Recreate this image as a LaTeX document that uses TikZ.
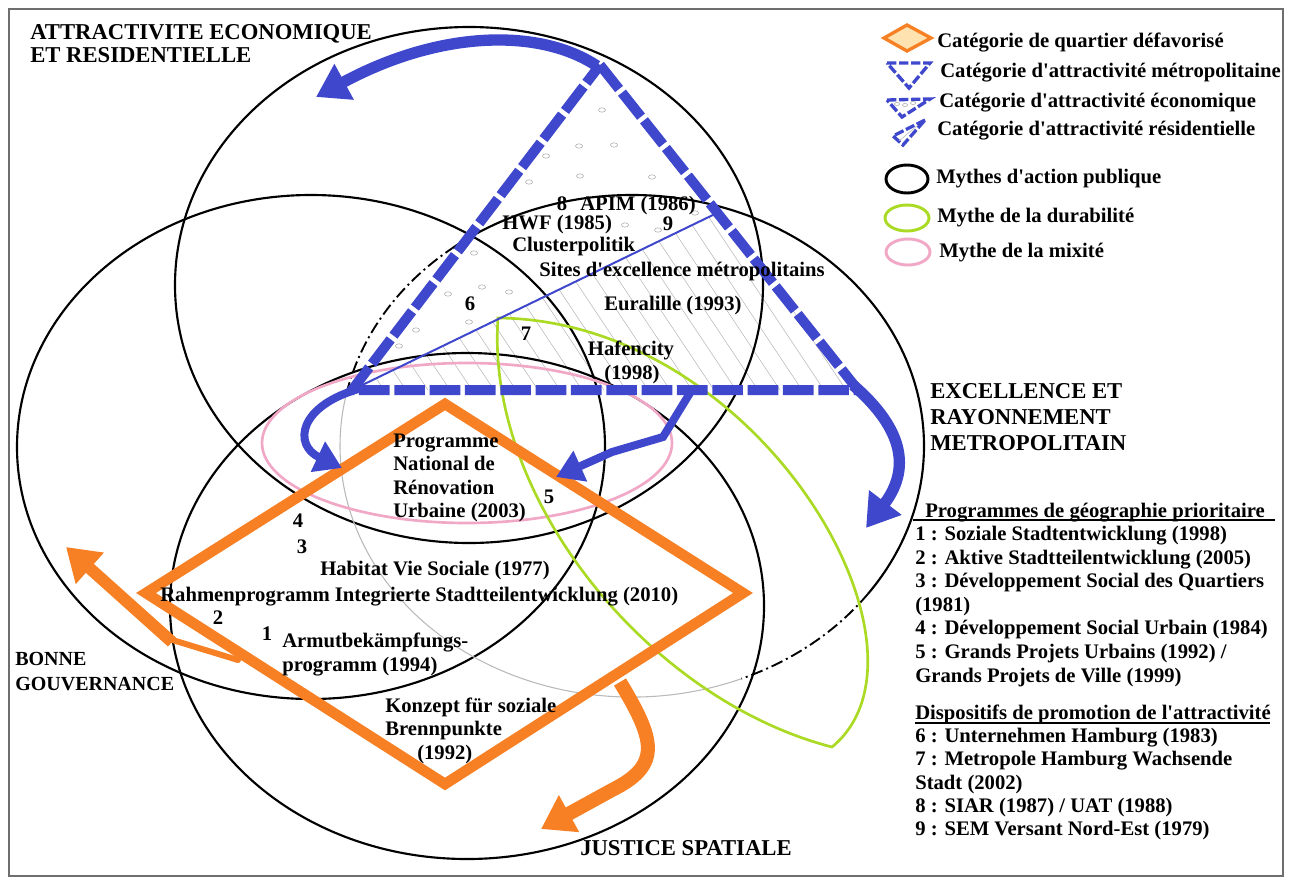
\documentclass[tikz,border=0pt]{standalone}
\usepackage{fontspec}
\newfontfamily\tnr{Liberation Serif}
\usetikzlibrary{arrows.meta}
\definecolor{tblue}{RGB}{63,72,204}
\definecolor{torange}{RGB}{247,128,36}
\definecolor{tgreen}{RGB}{170,218,35}
\definecolor{tpink}{RGB}{241,168,198}
\definecolor{tpeach}{RGB}{254,226,176}
\definecolor{tframe}{RGB}{110,110,110}
\begin{document}
\begin{tikzpicture}[x=0.75pt,y=-0.75pt,
  txt/.style={font=\tnr\bfseries\fontsize{15.5}{18}\selectfont, inner sep=0pt, anchor=base west},
  ctxt/.style={txt, anchor=base},
  ttl/.style={font=\tnr\bfseries\fontsize{15}{18}\selectfont, inner sep=0pt, anchor=base west},
  bigttl/.style={ttl, font=\tnr\bfseries\fontsize{17}{20}\selectfont},
  myth/.style={black, line width=1.6pt},
  mydashdot/.style={black, line width=1.4pt, dash pattern=on 9pt off 3pt on 1.5pt off 3pt},
  ghost/.style={gray!55, line width=0.8pt},
  tri/.style={tblue, line width=7.5pt, dash pattern=on 23pt off 3.5pt, line join=miter, miter limit=20},
  hatchline/.style={gray!60, line width=0.4pt},
  specdot/.style={gray!70, line width=0.4pt},
  barrow/.style={tblue, line width=8.5pt, -{Triangle[length=24pt,width=29pt]}},
  barrowsm/.style={tblue, line width=6pt, -{Triangle[length=20pt,width=24pt]}},
  oarrow/.style={torange, line width=10.5pt, -{Triangle[length=24pt,width=30pt]}},
  legtri/.style={tblue, line width=2.5pt, dash pattern=on 7pt off 2pt, line join=miter}
]
\useasboundingbox (0,0) rectangle (1294,878);
\draw[tframe, line width=1.1pt] (9,9) rectangle (1283,876);

% hatching of the residential category
\begin{scope}
  \clip (352,390) -- (717,213) -- (858,390) -- cycle;
  \foreach \i in {0,...,25} \draw[hatchline] ({180+22*\i},150) -- ++(200,300);
\end{scope}
% dots of the economic category
\foreach \p in {(602,110),(579,146),(614,145),(546,156),(580,176),(652,177),(529,182),(695,213),(625,225),(658,230),(474,253),(482,287),(448,294),(509,292),(469,322),(416,330),(399,346)}
  \draw[specdot] \p ellipse [x radius=3.5, y radius=2.2];

% myth circles
\draw[myth] (469,285) ellipse [x radius=294, y radius=258];
\draw[myth] (311,447) ellipse [x radius=294, y radius=252];
\draw[myth] (467,606) ellipse [x radius=297, y radius=253];
\draw[myth] (632,446) ++(-128:292 and 251) arc[start angle=-128, end angle=36, x radius=292, y radius=251];
\draw[mydashdot] (632,446) ++(36:292 and 251) arc[start angle=36, end angle=68, x radius=292, y radius=251];
\draw[ghost] (632,446) ++(68:292 and 251) arc[start angle=68, end angle=192, x radius=292, y radius=251];
\draw[mydashdot] (632,446) ++(192:292 and 251) arc[start angle=192, end angle=232, x radius=292, y radius=251];

% mixity and sustainability
\draw[tpink, line width=2pt] (467,443) ellipse [x radius=205, y radius=80];
\draw[tgreen, line width=2pt, line join=miter] (498,318) .. controls (760,320) and (950,650) .. (832,747) .. controls (650,700) and (485,500) .. cycle;

% metropolitan triangle
\draw[tri] (600,65) -- (858,390) -- (352,390) -- cycle;
\draw[tblue, line width=1.5pt] (717,213) -- (352,390);

% deprived neighbourhood diamond
\draw[torange, line width=8pt, line join=miter] (445,404) -- (743,593) -- (445,784) -- (146,593) -- cycle;

% orange arrows
\draw[torange, line width=4.5pt, line cap=round] (238,660) -- (166,638);
\draw[oarrow, line width=9pt] (172,642) -- (66,547);
\draw[oarrow] (620,682) .. controls (655,740) and (662,765) .. (612,790) -- (541,829);

% blue arrows
\draw[barrow] (597,66) .. controls (540,28) and (440,30) .. (316,97);
\draw[barrow] (853,385) .. controls (905,430) and (910,470) .. (866,528);
\draw[barrowsm] (362,388) .. controls (298,405) and (293,445) .. (342,468);
\draw[barrowsm] (690,393) -- (663,437) -- (612,452) -- (556,477);

% central labels
\node[ctxt] (n8) at (562,210) {8};
\node[txt] (apim) at (580,210) {APIM (1986)};
\node[txt] (hwf) at (502,229) {HWF (1985)};
\node[ctxt] (n9) at (668,230) {9};
\node[txt] (cluster) at (512,251) {Clusterpolitik};
\node[txt] (sites) at (539,276) {Sites d'excellence métropolitains};
\node[ctxt] (n6) at (470,310) {6};
\node[txt] (eura) at (604,310) {Euralille (1993)};
\node[ctxt] (n7) at (526,340) {7};
\node[ctxt] (hafen) at (631,355) {Hafencity};
\node[ctxt] (hafenyr) at (632,379) {(1998)};
\node[txt] (pnru1) at (393,447) {Programme};
\node[txt] (pnru2) at (393,470) {National de};
\node[txt] (pnru3) at (393,494) {Rénovation};
\node[txt] (pnru4) at (393,517) {Urbaine (2003)};
\node[ctxt] (n5) at (549,503) {5};
\node[ctxt] (n4) at (298,527) {4};
\node[ctxt] (n3) at (302,553) {3};
\node[txt] (hvs) at (320,575) {Habitat Vie Sociale (1977)};
\node[txt] (rahmen) at (160,601) {Rahmenprogramm Integrierte Stadtteilentwicklung (2010)};
\node[ctxt] (n2) at (218,624) {2};
\node[ctxt] (n1) at (267,640) {1};
\node[txt] (armut1) at (282,647) {Armutbekämpfungs-};
\node[txt] (armut2) at (282,671) {programm (1994)};
\node[txt] (konz1) at (385,712) {Konzept für soziale};
\node[txt] (konz2) at (385,735) {Brennpunkte};
\node[txt] (konz3) at (417,759) {(1992)};

% myth titles
\node[bigttl] (attr1) at (30,39) {ATTRACTIVITE ECONOMIQUE};
\node[bigttl] (attr2) at (30,62) {ET RESIDENTIELLE};
\node[bigttl] (exc1) at (930,398) {EXCELLENCE ET};
\node[bigttl] (exc2) at (930,424) {RAYONNEMENT};
\node[bigttl] (exc3) at (930,450) {METROPOLITAIN};
\node[ttl] (gouv1) at (15,665) {BONNE};
\node[ttl] (gouv2) at (15,690) {GOUVERNANCE};
\node[bigttl] (just) at (580,855) {JUSTICE SPATIALE};

% legend symbols
\draw[torange, line width=2.5pt, fill=tpeach, line join=miter] (884,38) -- (907,25) -- (931,38) -- (907,51) -- cycle;
\draw[legtri] (887,63) -- (930,63) -- (909,88) -- cycle;
\draw[legtri] (887,100) -- (930,99) -- (902,117) -- cycle;
\foreach \p in {(897,104),(905,105),(913,103)} \draw[specdot] \p ellipse [x radius=2.5, y radius=1.6];
\draw[legtri] (925,120) -- (893,136) -- (903,145) -- cycle;
\draw[hatchline] (918,125) -- (899,141);
\draw[black, line width=2.2pt] (907,179) ellipse [x radius=21, y radius=14];
\draw[tgreen, line width=2.2pt] (907,218) ellipse [x radius=22, y radius=13];
\draw[tpink, line width=2.2pt] (908,252) ellipse [x radius=22, y radius=13];

% legend texts
\node[txt] (leg1) at (937,47) {Catégorie de quartier défavorisé};
\node[txt] (leg2) at (940,77) {Catégorie d'attractivité métropolitaine};
\node[txt] (leg3) at (939,107) {Catégorie d'attractivité économique};
\node[txt] (leg4) at (937,135) {Catégorie d'attractivité résidentielle};
\node[txt] (leg5) at (936,183) {Mythes d'action publique};
\node[txt] (leg6) at (937,222) {Mythe de la durabilité};
\node[txt] (leg7) at (939,257) {Mythe de la mixité};

% programme lists
\node[txt] (pgtitle) at (925,517) {Programmes de géographie prioritaire};
\draw[black, line width=1pt] (913,520) -- (1275,520);
\node[txt] (pg1) at (915,540) {1 : Soziale Stadtentwicklung (1998)};
\node[txt] (pg2) at (915,564) {2 : Aktive Stadtteilentwicklung (2005)};
\node[txt] (pg3) at (915,587) {3 : Développement Social des Quartiers};
\node[txt] (pg3b) at (915,611) {(1981)};
\node[txt] (pg4) at (915,634) {4 : Développement Social Urbain (1984)};
\node[txt] (pg5) at (915,658) {5 : Grands Projets Urbains (1992) /};
\node[txt] (pg5b) at (915,682) {Grands Projets de Ville (1999)};
\node[txt] (dptitle) at (915,719) {Dispositifs de promotion de l'attractivité};
\draw[black, line width=1pt] (915,723) -- (1270,723);
\node[txt] (dp6) at (915,742) {6 : Unternehmen Hamburg (1983)};
\node[txt] (dp7) at (915,765) {7 : Metropole Hamburg Wachsende};
\node[txt] (dp7b) at (915,789) {Stadt (2002)};
\node[txt] (dp8) at (915,812) {8 : SIAR (1987) / UAT (1988)};
\node[txt] (dp9) at (915,835) {9 : SEM Versant Nord-Est (1979)};
\end{tikzpicture}
\end{document}
